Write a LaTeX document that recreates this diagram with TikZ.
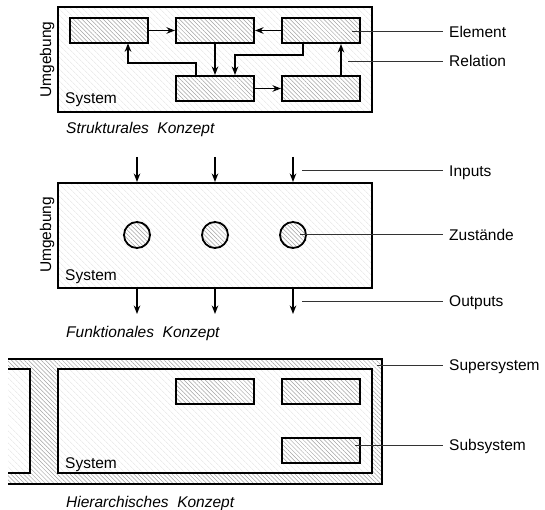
\documentclass[tikz,border=0pt]{standalone}
\usepackage{fontspec}
\setmainfont{Liberation Sans}
\usetikzlibrary{patterns.meta,arrows.meta}
\begin{document}
\begin{tikzpicture}[x=1pt,y=-1pt,
  txt/.style={font=\fontsize{15.5pt}{18pt}\selectfont, inner sep=0pt},
  lighthatch/.style={preaction={fill=white}, pattern={Lines[angle=-45,distance=4pt,line width=0.5pt]}, pattern color=black!11},
  darkhatch/.style={preaction={fill=white}, pattern={Lines[angle=-45,distance=3pt,line width=0.5pt]}, pattern color=black!36},
  sysbox/.style={draw, line width=2pt, lighthatch, minimum width=314pt, minimum height=105pt, inner sep=0pt},
  elem/.style={draw, line width=2pt, darkhatch, minimum width=78pt, minimum height=25pt, inner sep=0pt},
  state/.style={draw, circle, line width=1.8pt, darkhatch, minimum size=26pt, inner sep=0pt},
  arr/.style={line width=1.6pt, -{Stealth[length=8.5pt,width=6.5pt]}},
  lead/.style={line width=1pt, black!80},
  lbl/.style={txt, anchor=west, inner xsep=6pt, inner ysep=0pt, text height=11pt, text depth=0pt},
  captxt/.style={txt, anchor=base west, font=\fontsize{15.5pt}{18pt}\selectfont\itshape},
  umg/.style={txt, rotate=90}
]
\useasboundingbox (0,0) rectangle (545,510);

% ---------- Structural concept ----------
\node[sysbox] (sys1) at (215,59.5) {};
\node[elem] (A) at (109,30.5) {};
\node[elem] (B) at (215,30.5) {};
\node[elem] (C) at (321,30.5) {};
\node[elem] (D) at (215,88.5) {};
\node[elem] (E) at (321,88.5) {};
\draw[arr] (A) -- (B);
\draw[arr] (C) -- (B);
\draw[arr] (B) -- (D);
\draw[arr] (D) -- (E);
\draw[arr] (E.north -| 341,0) -- (C.south -| 341,0);
\draw[arr] (C.south -| 303,0) |- (235,55) -- (D.north -| 235,0);
\draw[arr] (D.north -| 196,0) |- (128,63) -- (A.south -| 128,0);
\node[txt, anchor=base west] (s1) at (65,103.5) {System};
\node[umg] (u1) at (47,59.5) {Umgebung};
\node[captxt] (c1) at (66,134) {Strukturales\ \ Konzept};

\coordinate (pel) at (352,32);
\coordinate (prel) at (348,61.5);
\node[lbl] (lel) at (443,32) {Element};
\node[lbl] (lrel) at (443,61.5) {Relation};
\draw[lead] (pel) -- (lel.west);
\draw[lead] (prel) -- (lrel.west);

% ---------- Functional concept ----------
\node[sysbox] (sys2) at (215,235.5) {};
\node[state] (z1) at (137,235) {};
\node[state] (z2) at (215,235) {};
\node[state] (z3) at (293,235) {};
\coordinate (i1) at (137,157);
\coordinate (i2) at (215,157);
\coordinate (i3) at (293,157);
\coordinate (o1) at (137,314);
\coordinate (o2) at (215,314);
\coordinate (o3) at (293,314);
\draw[arr] (i1) -- (sys2.north -| i1);
\draw[arr] (i2) -- (sys2.north -| i2);
\draw[arr] (i3) -- (sys2.north -| i3);
\draw[arr] (sys2.south -| o1) -- (o1);
\draw[arr] (sys2.south -| o2) -- (o2);
\draw[arr] (sys2.south -| o3) -- (o3);
\node[txt, anchor=base west] (s2) at (65,280) {System};
\node[umg] (u2) at (47,235) {Umgebung};
\node[captxt] (c2) at (66,337) {Funktionales\ \ Konzept};

\coordinate (pin) at (302,171);
\coordinate (pzu) at (300,235);
\coordinate (pout) at (302,301);
\node[lbl] (lin) at (443,171) {Inputs};
\node[lbl] (lzu) at (443,235) {Zustände};
\node[lbl] (lout) at (443,301) {Outputs};
\draw[lead] (pin) -- (lin.west);
\draw[lead] (pzu) -- (lzu.west);
\draw[lead] (pout) -- (lout.west);

% ---------- Hierarchical concept ----------
\fill[darkhatch] (8,359) rectangle (382,484);
\draw[line width=2pt] (8,359) -| (382,484) -- (8,484);
\fill[lighthatch] (8,369) rectangle (30,473);
\draw[line width=2pt] (8,369) -| (30,473) -- (8,473);
\node[sysbox, minimum height=104pt] (sys3) at (215,421) {};
\node[elem] (h1) at (215,391.5) {};
\node[elem] (h2) at (321,391.5) {};
\node[elem] (h3) at (321,450) {};
\node[txt, anchor=base west] (s3) at (65,468) {System};
\node[captxt] (c3) at (66,507) {Hierarchisches\ \ Konzept};

\coordinate (psup) at (377,365);
\coordinate (psub) at (355,445);
\node[lbl] (lsup) at (443,365) {Supersystem};
\node[lbl] (lsub) at (443,445) {Subsystem};
\draw[lead] (psup) -- (lsup.west);
\draw[lead] (psub) -- (lsub.west);
\end{tikzpicture}
\end{document}
